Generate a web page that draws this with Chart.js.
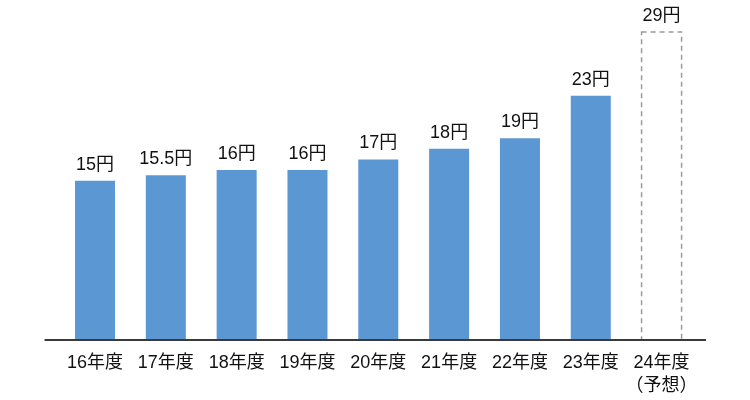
<!DOCTYPE html>
<html lang="ja">
<head>
<meta charset="utf-8">
<script src="https://cdn.jsdelivr.net/npm/chart.js@4.4.1/dist/chart.umd.min.js"></script>
<style>
html,body{margin:0;padding:0;background:#fff;}
#wrap{width:750px;height:400px;position:relative;}
</style>
</head>
<body>
<div id="wrap"><canvas id="grafico"></canvas></div>
<script>
// Datos
const categorias=["16年度","17年度","18年度","19年度","20年度","21年度","22年度","23年度",["24年度","（予想）"]];
const valores=[15,15.5,16,16,17,18,19,23,29];
const etiquetas=["15円","15.5円","16円","16円","17円","18円","19円","23円","29円"];
const esPrevision=[false,false,false,false,false,false,false,false,true];

const azul="#5b97d3";
const fuente='"Liberation Sans","Noto Sans CJK JP",sans-serif';
Chart.defaults.font.family=fuente;

// Etiquetas de valor, barra prevista punteada y eje
const extras={
  id:"extras",
  afterDatasetsDraw(chart){
    const ctx=chart.ctx;
    const meta=chart.getDatasetMeta(0);
    const area=chart.chartArea;
    ctx.save();
    meta.data.forEach((bar,i)=>{
      const p=bar.getProps(["x","y","base","width"],true);
      if(esPrevision[i]){
        ctx.setLineDash([5,4]);
        ctx.strokeStyle="#9a9a9a";
        ctx.lineWidth=1.5;
        ctx.strokeRect(p.x-p.width/2,p.y,p.width,p.base-p.y);
        ctx.setLineDash([]);
      }
      ctx.fillStyle="#111";
      ctx.font="18px "+fuente;
      ctx.textAlign="center";
      ctx.textBaseline="alphabetic";
      ctx.fillText(etiquetas[i],p.x,p.y-11);
    });
    ctx.strokeStyle="#3a3a3a";
    ctx.lineWidth=2;
    ctx.beginPath();
    ctx.moveTo(area.left-15,area.bottom);
    ctx.lineTo(area.right+9,area.bottom);
    ctx.stroke();
    ctx.restore();
  }
};

new Chart(document.getElementById("grafico"),{
  type:"bar",
  data:{labels:categorias,datasets:[{
    data:valores,
    backgroundColor:esPrevision.map(p=>p?"rgba(0,0,0,0)":azul),
    borderWidth:0,
    barPercentage:0.565,
    categoryPercentage:1
  }]},
  options:{
    responsive:true,
    maintainAspectRatio:false,
    animation:false,
    layout:{padding:{left:59.6,right:53,top:0,bottom:0}},
    plugins:{legend:{display:false},tooltip:{enabled:false}},
    scales:{
      x:{
        grid:{display:false,drawTicks:false},
        border:{display:false},
        ticks:{color:"#111",padding:11,font:{size:18,lineHeight:1.3},maxRotation:0,autoSkip:false},
        afterFit(s){s.height=60;}
      },
      y:{display:false,min:0,max:32}
    }
  },
  plugins:[extras]
});
</script>
</body>
</html>
